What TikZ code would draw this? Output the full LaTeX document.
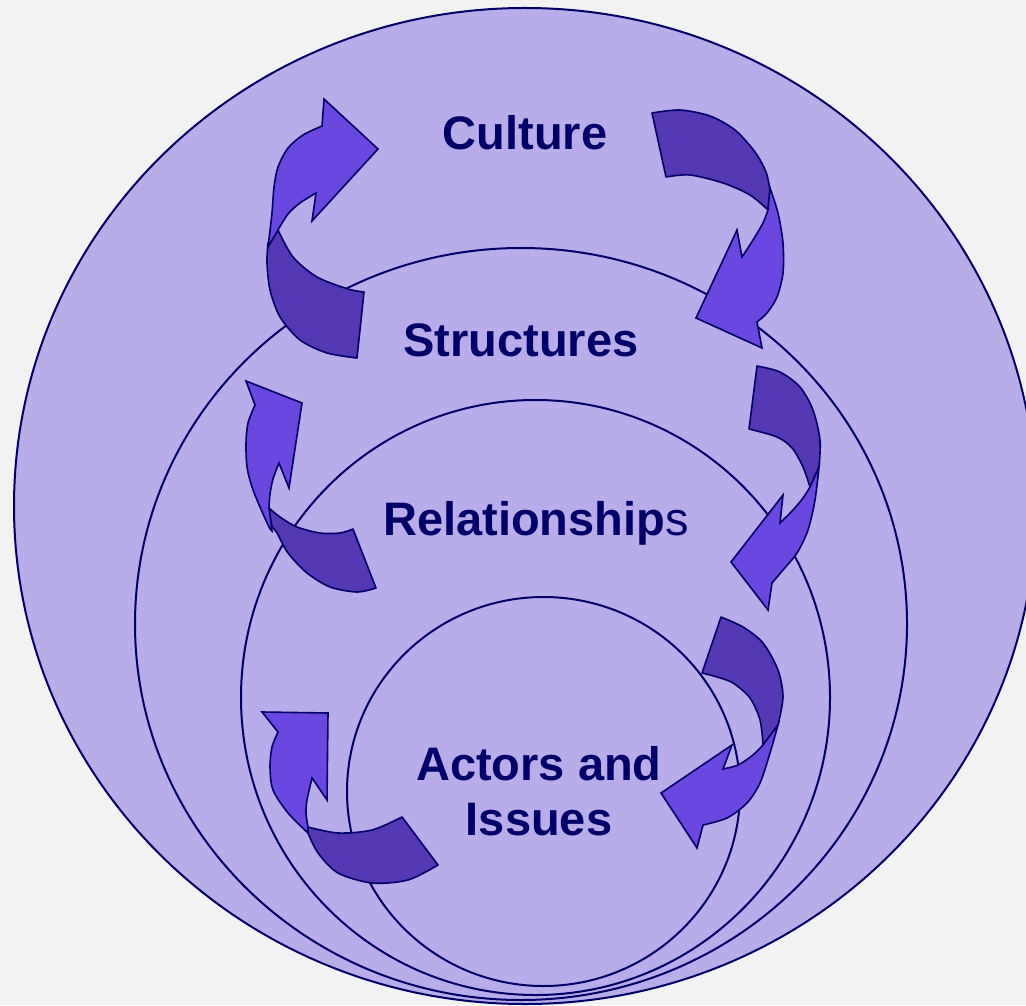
\documentclass[tikz,border=0pt]{standalone}
\usepackage{fontspec}
\setmainfont{Liberation Sans}
\definecolor{paper}{HTML}{F2F2F2}
\definecolor{ringfill}{HTML}{B9ADE9}
\definecolor{headfill}{HTML}{6A47E1}
\definecolor{tailfill}{HTML}{5337B5}
\definecolor{ink}{HTML}{000066}
\tikzstyle{ring} = [draw=ink, line width=1pt, fill=ringfill]
\tikzstyle{tailpart} = [draw=ink, line width=0.8pt, line join=round, fill=tailfill]
\tikzstyle{headpart} = [draw=ink, line width=0.8pt, fill=headfill]
\tikzstyle{layer} = [text=ink, font=\fontsize{23.5}{27.5}\selectfont\bfseries, inner sep=0pt, anchor=base, align=center]

\begin{document}
\begin{tikzpicture}[x=0.5pt, y=-0.5pt]
            \clip (0,0) rectangle (1026,1005);
            \fill [paper] (0,0) rectangle (1026,1005);

            % rings
            \draw [ring] (525,506) ellipse [x radius=255.5pt, y radius=249pt];
            \draw [ring] (521,624) ellipse [x radius=193pt, y radius=188pt];
            \draw [ring] (535.5,697.5) ellipse [x radius=147.25pt, y radius=148.75pt];
            \draw [ring] (543.5,791.5) ellipse [x radius=98.25pt, y radius=97.25pt];

            % labels
            \node [layer] at (525,150) (culture) {Culture};
            \node [layer] at (521,356) (structures) {Structures};
            \node [layer] at (536,535) (relations) {Relationship\mdseries s};
            \node [layer] at (539,835) (actors) {Actors and\\Issues};

            % arrow up to culture
            \filldraw [tailpart] plot [smooth] coordinates {(364,292) (348,289) (317,277) (293,257) (278,230)}
                -- plot [smooth] coordinates {(268,243) (267,263) (270,290) (280,317) (300,340) (327,353) (357,358)} -- cycle;
            \filldraw [headpart] plot [smooth] coordinates {(268,247) (272,213) (274,187) (278,167) (288,148) (303,135) (322,126)}
                -- (324,99) -- (378,149) -- (312,221)
                -- plot [smooth] coordinates {(316,193) (300,203) (288,214) (278,230)} -- cycle;

            % arrow down to structures
            \filldraw [tailpart] plot [smooth] coordinates {(652,113) (680,110) (710,116) (735,130) (755,152) (766,172) (770,190)}
                -- plot [smooth] coordinates {(768,210) (750,195) (723,183) (690,175) (666,177)} -- cycle;
            \filldraw [headpart] plot [smooth] coordinates {(770,188) (778,213) (783,243) (783,273) (777,297) (767,313) (757,322)}
                -- (762,348) -- (696,318) -- (737,230)
                -- plot [smooth] coordinates {(742,257) (753,240) (763,223) (768,210)} -- cycle;

            % arrow up to structures
            \filldraw [tailpart] plot [smooth] coordinates {(269,508) (280,517) (297,527) (320,533) (340,533) (353,529)}
                -- plot [smooth] coordinates {(376,588) (357,592) (330,587) (307,573) (288,553) (277,533) (272,527)} -- cycle;
            \filldraw [headpart] plot [smooth] coordinates {(272,531) (269,527) (260,507) (252,487) (247,467) (246,443) (248,423) (255,405)}
                -- (246,381) -- (302,403) -- (289,488)
                -- plot [smooth] coordinates {(279,463) (273,479) (270,494) (269,508)} -- cycle;

            % arrow down to relationships
            \filldraw [tailpart] plot [smooth] coordinates {(757,366) (780,372) (800,387) (813,410) (820,440) (819,467)}
                -- plot [smooth] coordinates {(810,487) (803,467) (792,448) (777,437) (749,429)} -- cycle;
            \filldraw [headpart] plot [smooth] coordinates {(819,467) (815,500) (808,530) (797,553) (783,570) (772,583)}
                -- (768,610) -- (731,562) -- (783,495)
                -- plot [smooth] coordinates {(780,523) (793,510) (803,498) (810,487)} -- cycle;

            % arrow down to actors
            \filldraw [tailpart] plot [smooth] coordinates {(721,617) (743,627) (763,643) (778,670) (783,697) (778,725)}
                -- plot [smooth] coordinates {(763,745) (760,720) (750,698) (733,683) (717,677) (702,673)} -- cycle;
            \filldraw [headpart] plot [smooth] coordinates {(778,725) (770,753) (760,783) (747,803) (727,818) (703,825)}
                -- (697,848) -- (661,793) -- (732,745)
                -- plot [smooth] coordinates {(723,769) (738,765) (753,755) (763,745)} -- cycle;

            % arrow up to relationships
            \filldraw [tailpart] plot [smooth] coordinates {(308,827) (338,833) (372,830) (402,817)}
                -- plot [smooth] coordinates {(438,865) (408,880) (372,883) (338,873) (318,853) (308,833)} -- cycle;
            \filldraw [headpart] plot [smooth] coordinates {(308,833) (288,813) (273,790) (270,767) (272,747) (278,732)}
                -- (262,712) -- (328,713) -- (327,800)
                -- plot [smooth] coordinates {(312,778) (307,800) (306,813) (308,827)} -- cycle;
\end{tikzpicture}
\end{document}
